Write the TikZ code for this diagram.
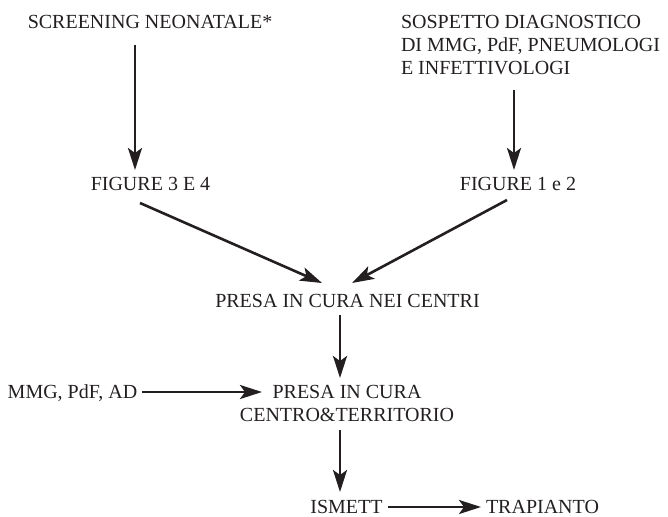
\documentclass[tikz,border=0pt]{standalone}
\usepackage{fontspec}
\setmainfont{Liberation Serif}
\usetikzlibrary{arrows.meta}
\definecolor{ink}{HTML}{231F20}
\begin{document}
\begin{tikzpicture}[x=1pt,y=-1pt,
  lbl/.style={inner sep=0pt,outer sep=0pt,text=ink,font=\fontsize{20}{23.3}\selectfont},
  arr/.style={draw=ink,line width=2.6pt,-{Stealth[length=22pt,width=14pt,inset=5pt]}}]
\useasboundingbox (0,0) rectangle (668,516);
\node[lbl,anchor=base] (scr) at (150,28.5) {SCREENING NEONATALE*};
\node[lbl,anchor=north west,align=left] (sosp) at (401,15) {SOSPETTO DIAGNOSTICO\\DI MMG, PdF, PNEUMOLOGI\\E INFETTIVOLOGI};
\node[lbl,anchor=base] (fig34) at (150.5,190.5) {FIGURE 3 E 4};
\node[lbl,anchor=base] (fig12) at (518,190.5) {FIGURE 1 e 2};
\node[lbl,anchor=base] (presa1) at (347.5,307) {PRESA IN CURA NEI CENTRI};
\node[lbl,anchor=north,align=center] (presa2) at (347,385) {PRESA IN CURA\\CENTRO\&TERRITORIO};
\node[lbl,anchor=base] (mmg) at (72.5,398.5) {MMG, PdF, AD};
\node[lbl,anchor=base] (ismett) at (346.5,513) {ISMETT};
\node[lbl,anchor=base] (trap) at (542.5,513) {TRAPIANTO};

\draw[arr] ([xshift=-15pt,yshift=-16.5pt]scr.base) -- ([xshift=-15.5pt,yshift=20.5pt]fig34.base);
\draw[arr] ([xshift=113pt,yshift=-75pt]sosp.north west) -- ([xshift=-4pt,yshift=20.5pt]fig12.base);
\draw[arr] ([xshift=-10.5pt,yshift=-12.5pt]fig34.base) -- ([xshift=-25.5pt,yshift=24pt]presa1.base);
\draw[arr] ([xshift=-11pt,yshift=-9.5pt]fig12.base) -- ([xshift=4.5pt,yshift=24pt]presa1.base);
\draw[arr] ([xshift=-7.5pt,yshift=-8pt]presa1.base) -- ([xshift=-7pt,yshift=7pt]presa2.north);
\draw[arr] ([xshift=5pt,yshift=6.5pt]mmg.base east) -- ([xshift=-85pt,yshift=-7pt]presa2.north);
\draw[arr] ([xshift=-7pt,yshift=-45pt]presa2.north) -- ([xshift=-6.5pt,yshift=21pt]ismett.base);
\draw[arr] ([xshift=5pt,yshift=6pt]ismett.base east) -- ([xshift=-5pt,yshift=6pt]trap.base west);
\end{tikzpicture}
\end{document}
